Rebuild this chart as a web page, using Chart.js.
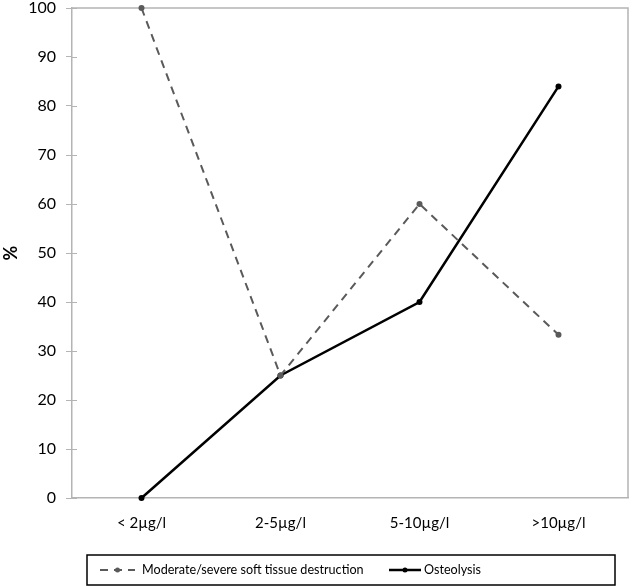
<!DOCTYPE html>
<html>
<head>
<meta charset="utf-8">
<script src="https://cdn.jsdelivr.net/npm/chart.js@4/dist/chart.umd.min.js"></script>
<style>
html,body{margin:0;padding:0;background:#fff;}
#wrap{width:633px;height:586px;}
</style>
</head>
<body>
<div id="wrap"><canvas id="c" width="633" height="586"></canvas></div>
<script>
const categories = ["< 2µg/l", "2-5µg/l", "5-10µg/l", ">10µg/l"];
const softTissue = [100, 25, 60, 33.3];
const osteolysis = [0, 25, 40, 84];
const yTicks = [0, 10, 20, 30, 40, 50, 60, 70, 80, 90, 100];
const seriesNames = ["Moderate/severe soft tissue destruction", "Osteolysis"];

const FONT = "Lato, 'Open Sans', sans-serif";
const GRID = "#b4b4b4";

const framePlugin = {
  id: "frame",
  beforeDatasetsDraw(chart) {
    const ctx = chart.ctx, a = chart.chartArea, y = chart.scales.y;
    ctx.save();
    ctx.strokeStyle = GRID;
    ctx.lineWidth = 1.5;
    ctx.beginPath();
    ctx.moveTo(a.left, a.top); ctx.lineTo(a.right, a.top); ctx.lineTo(a.right, a.bottom);
    ctx.stroke();
    ctx.lineWidth = 1;
    yTicks.forEach(v => {
      const py = Math.round(y.getPixelForValue(v)) + 0.5;
      ctx.beginPath(); ctx.moveTo(a.left, py); ctx.lineTo(a.left + 5, py); ctx.stroke();
    });
    ctx.restore();
  },
  afterDraw(chart) {
    const ctx = chart.ctx;
    const L = 87, T = 555, R = 615, B = 585;
    ctx.save();
    ctx.strokeStyle = "#000";
    ctx.lineWidth = 1.5;
    ctx.strokeRect(L, T, R - L, B - T);
    const cy = 570;
    const ds = chart.data.datasets;
    const items = [{x1: 100, x2: 135, tx: 142}, {x1: 389, x2: 421, tx: 424}];
    items.forEach((it, i) => {
      const d = ds[i];
      ctx.strokeStyle = d.borderColor;
      ctx.lineWidth = d.borderWidth;
      ctx.setLineDash(d.borderDash || []);
      ctx.beginPath(); ctx.moveTo(it.x1, cy); ctx.lineTo(it.x2, cy); ctx.stroke();
      ctx.setLineDash([]);
      ctx.fillStyle = d.pointBackgroundColor;
      ctx.beginPath(); ctx.arc((it.x1 + it.x2) / 2, cy, 2.5, 0, Math.PI * 2); ctx.fill();
      ctx.fillStyle = "#000";
      ctx.font = "12.6px " + FONT;
      ctx.textBaseline = "middle";
      ctx.textAlign = "left";
      ctx.fillText(seriesNames[i], it.tx, cy);
    });
    ctx.restore();
  }
};

new Chart(document.getElementById("c"), {
  type: "line",
  data: {
    labels: categories,
    datasets: [
      {
        label: seriesNames[0],
        data: softTissue,
        borderColor: "#5a5a5a",
        backgroundColor: "#5a5a5a",
        pointBackgroundColor: "#5a5a5a",
        pointBorderColor: "#5a5a5a",
        borderWidth: 2,
        borderDash: [8, 6],
        pointRadius: 3,
        pointBorderWidth: 0,
        tension: 0,
        clip: false
      },
      {
        label: seriesNames[1],
        data: osteolysis,
        borderColor: "#000",
        backgroundColor: "#000",
        pointBackgroundColor: "#000",
        pointBorderColor: "#000",
        borderWidth: 2.5,
        pointRadius: 3,
        pointBorderWidth: 0,
        tension: 0,
        clip: false
      }
    ]
  },
  options: {
    responsive: false,
    animation: false,
    layout: { padding: { top: 8, right: 5, left: 0, bottom: 0 } },
    plugins: { legend: { display: false }, tooltip: { enabled: false } },
    scales: {
      x: {
        offset: true,
        grid: { display: false, drawTicks: false },
        border: { display: true, color: GRID, width: 1.5 },
        ticks: { color: "#000", font: { family: FONT, size: 15 }, padding: 16, maxRotation: 0 },
        afterFit(s) { s.height = 88; s.paddingLeft = 0; s.paddingRight = 0; }
      },
      y: {
        min: 0, max: 100,
        afterBuildTicks(s) { s.ticks = yTicks.map(v => ({ value: v })); },
        grid: { drawOnChartArea: false, drawTicks: true, tickLength: 6, color: GRID },
        border: { display: true, color: GRID, width: 1.5 },
        ticks: { color: "#000", font: { family: FONT, size: 16 }, padding: 10 },
        title: { display: true, text: "%", color: "#000", font: { family: FONT, size: 18, weight: "bold" }, padding: 0 },
        afterFit(s) { s.width = 72; s.paddingTop = 0; s.paddingBottom = 0; }
      }
    }
  },
  plugins: [framePlugin]
});
</script>
</body>
</html>
